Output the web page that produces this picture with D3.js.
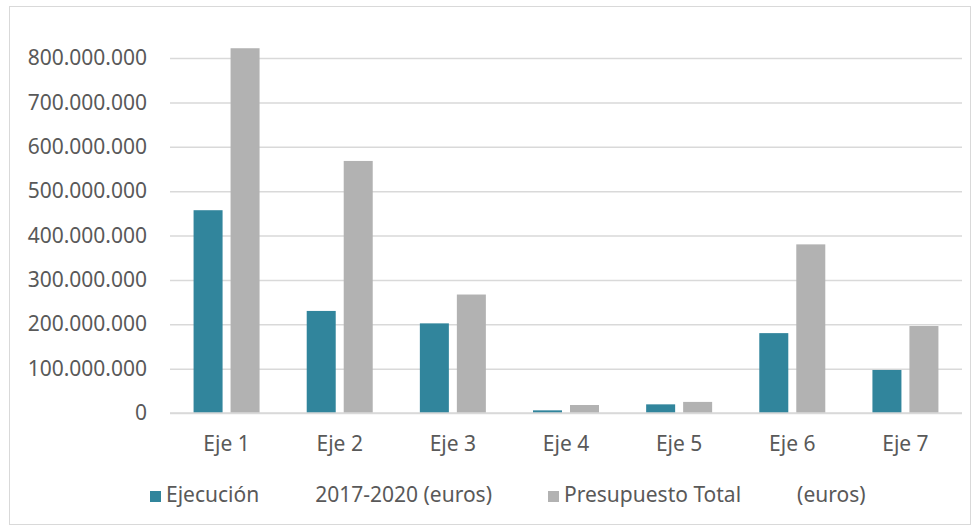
<!DOCTYPE html>
<html>
<head>
<meta charset="utf-8">
<script src="https://cdn.jsdelivr.net/npm/d3@7"></script>
<style>
  body { margin: 0; background: #fff; }
  text { font-family: "Noto Sans", sans-serif; fill: #595959; }
</style>
</head>
<body>
<div id="chart"></div>
<script>
// data
var categories = ["Eje 1", "Eje 2", "Eje 3", "Eje 4", "Eje 5", "Eje 6", "Eje 7"];
var ejecucion = [457000000, 230000000, 202000000, 6000000, 19500000, 180000000, 97000000];
var presupuesto = [822000000, 568000000, 267000000, 18000000, 25000000, 380000000, 196000000];
var seriesNames = [["Ejecución", "2017-2020 (euros)"], ["Presupuesto Total", "(euros)"]];
var yTicks = [0, 100000000, 200000000, 300000000, 400000000, 500000000, 600000000, 700000000, 800000000];

var colors = ["#31859c", "#b2b2b2"];
var W = 979, H = 531;
var margin = {top: 58, right: 17, bottom: 118, left: 170};

var svg = d3.select("#chart")
  .append("svg")
    .attr("width", W)
    .attr("height", H);

// outer border
svg.append("rect")
  .attr("x", 9.5).attr("y", 6.5)
  .attr("width", 961).attr("height", 518)
  .attr("fill", "none")
  .attr("stroke", "#d9d9d9");

var y = d3.scaleLinear()
  .domain([0, 800000000])
  .range([H - margin.bottom, margin.top]);

var x0 = d3.scaleBand()
  .domain(categories)
  .range([margin.left, W - margin.right]);

var groupW = 66;
var x1 = d3.scaleBand()
  .domain([0, 1])
  .range([0, groupW])
  .paddingInner(0.216);

var fmt = function(v) {
  return d3.format(",")(v).replace(/,/g, ".");
};

// gridlines + y labels
var yAxis = svg.append("g")
  .attr("transform", "translate(" + margin.left + ",0)")
  .call(d3.axisLeft(y).tickValues(yTicks).tickSize(-(W - margin.right - margin.left)).tickFormat(fmt).tickPadding(23));
yAxis.select(".domain").remove();
yAxis.selectAll(".tick line").attr("stroke", "#d9d9d9").attr("stroke-width", 1.5);
yAxis.selectAll(".tick text")
  .attr("font-size", "21px")
  .attr("fill", "#595959")
  .attr("font-family", "Noto Sans");

// bars
var data = categories.map(function(c, i) { return {cat: c, vals: [ejecucion[i], presupuesto[i]]}; });
var groups = svg.selectAll(".grp")
  .data(data)
  .enter()
  .append("g")
    .attr("transform", function(d) {
      return "translate(" + (x0(d.cat) + (x0.bandwidth() - groupW) / 2) + ",0)";
    });

groups.selectAll("rect")
  .data(function(d) { return d.vals; })
  .enter()
  .append("rect")
    .attr("x", function(d, i) { return x1(i); })
    .attr("y", function(d) { return y(d); })
    .attr("width", x1.bandwidth())
    .attr("height", function(d) { return y(0) - y(d); })
    .attr("fill", function(d, i) { return colors[i]; });

// x axis line + labels
svg.append("line")
  .attr("x1", margin.left).attr("x2", W - margin.right)
  .attr("y1", y(0)).attr("y2", y(0))
  .attr("stroke", "#d9d9d9").attr("stroke-width", 1.5);

svg.selectAll(".xlab")
  .data(categories)
  .enter()
  .append("text")
    .attr("x", function(d) { return x0(d) + x0.bandwidth() / 2; })
    .attr("y", 451)
    .attr("text-anchor", "middle")
    .attr("font-size", "21px")
    .text(function(d) { return d; });

// legend
var legendX = [150, 548];
var leg = svg.selectAll(".leg")
  .data(seriesNames)
  .enter()
  .append("g")
    .attr("transform", function(d, i) { return "translate(" + legendX[i] + ",0)"; });

leg.append("rect")
  .attr("x", 0).attr("y", 491)
  .attr("width", 11).attr("height", 11)
  .attr("fill", function(d, i) { return colors[i]; });

var lt = leg.append("text")
  .attr("x", 16)
  .attr("y", 502)
  .attr("font-size", "21px");
lt.append("tspan").text(function(d) { return d[0]; });
lt.append("tspan").attr("dx", 56).text(function(d) { return d[1]; });
</script>
</body>
</html>
